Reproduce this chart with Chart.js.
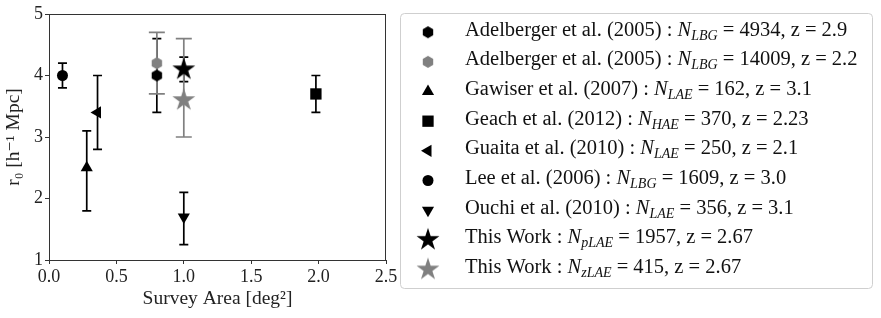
<!DOCTYPE html>
<html>
<head>
<meta charset="utf-8">
<script src="https://cdn.jsdelivr.net/npm/chart.js@4.4.0/dist/chart.umd.min.js"></script>
<style>
html, body { margin: 0; padding: 0; background: #fff; }
#grafico { display: block; }
</style>
</head>
<body>
<canvas id="grafico" width="881" height="318"></canvas>
<script>
// datos
const autores = [
    "Adelberger et al. (2005)", "Adelberger et al. (2005)", "Gawiser et al. (2007)",
    "Geach et al. (2012)", "Guaita et al. (2010)", "Lee et al. (2006)",
    "Ouchi et al. (2010)", "This Work", "This Work"
];
const muestra = ["LBG", "LBG", "LAE", "HAE", "LAE", "LBG", "LAE", "pLAE", "zLAE"];
const nObjetos = [4934, 14009, 162, 370, 250, 1609, 356, 1957, 415];
const redshift = ["2.9", "2.2", "3.1", "2.23", "2.1", "3.0", "3.1", "2.67", "2.67"];
const area = [0.8, 0.8, 0.28, 1.98, 0.36, 0.1, 1.0, 1.0, 1.0];
const r0 = [4.0, 4.2, 2.5, 3.7, 3.4, 4.0, 1.7, 4.1, 3.6];
const r0Min = [3.4, 3.7, 1.8, 3.4, 2.8, 3.8, 1.25, 3.9, 3.0];
const r0Max = [4.6, 4.7, 3.1, 4.0, 4.0, 4.2, 2.1, 4.3, 4.6];
const ticksX = [0, 0.5, 1.0, 1.5, 2.0, 2.5];
const ticksY = [1, 2, 3, 4, 5];

const SERIF = '"Liberation Serif", "DejaVu Serif", serif';
const GRIS = "#808080";

function crearMarcador(forma, r, color) {
    const c = document.createElement("canvas");
    const s = Math.ceil(2 * r + 2);
    c.width = s;
    c.height = s;
    const g = c.getContext("2d");
    g.fillStyle = color;
    g.beginPath();
    const n = forma === "estrella" ? 10 : 6;
    for (let k = 0; k < n; k++) {
        const a = -Math.PI / 2 + k * 2 * Math.PI / n;
        const rr = (forma === "estrella" && k % 2) ? r * 0.382 : r;
        const px = s / 2 + rr * Math.cos(a);
        const py = s / 2 + rr * Math.sin(a);
        if (k === 0) g.moveTo(px, py); else g.lineTo(px, py);
    }
    g.closePath();
    g.fill();
    return c;
}

// estilo de cada serie (marcador, color, tamaño del cap)
const estilos = [
    { color: "#000", estilo: crearMarcador("hex", 6, "#000"), radio: 6, rot: 0, cap: 4.5 },
    { color: GRIS, estilo: crearMarcador("hex", 6, GRIS), radio: 6, rot: 0, cap: 8 },
    { color: "#000", estilo: "triangle", radio: 7, rot: 0, cap: 4.5 },
    { color: "#000", estilo: "rect", radio: 8, rot: 0, cap: 4.5 },
    { color: "#000", estilo: "triangle", radio: 7, rot: -90, cap: 4.5 },
    { color: "#000", estilo: "circle", radio: 5.5, rot: 0, cap: 4.5 },
    { color: "#000", estilo: "triangle", radio: 7, rot: 180, cap: 4.5 },
    { color: "#000", estilo: crearMarcador("estrella", 12, "#000"), radio: 12, rot: 0, cap: 4.5 },
    { color: GRIS, estilo: crearMarcador("estrella", 12, GRIS), radio: 12, rot: 0, cap: 8 }
];

const barrasError = {
    id: "barrasError",
    beforeDatasetsDraw(chart) {
        const ctx = chart.ctx;
        const sx = chart.scales.x;
        const sy = chart.scales.y;
        ctx.save();
        ctx.lineWidth = 1.7;
        area.forEach((a, i) => {
            const x = sx.getPixelForValue(a);
            const y1 = sy.getPixelForValue(r0Min[i]);
            const y2 = sy.getPixelForValue(r0Max[i]);
            const c = estilos[i].cap;
            ctx.strokeStyle = estilos[i].color;
            ctx.beginPath();
            ctx.moveTo(x, y1); ctx.lineTo(x, y2);
            ctx.moveTo(x - c, y1); ctx.lineTo(x + c, y1);
            ctx.moveTo(x - c, y2); ctx.lineTo(x + c, y2);
            ctx.stroke();
        });
        ctx.restore();
    }
};

const marco = {
    id: "marco",
    afterDatasetsDraw(chart) {
        const { left, right, top, bottom } = chart.chartArea;
        const ctx = chart.ctx;
        ctx.save();
        ctx.strokeStyle = "#333";
        ctx.lineWidth = 1;
        ctx.beginPath();
        ctx.moveTo(left, top + 0.5); ctx.lineTo(right, top + 0.5);
        ctx.moveTo(right - 0.5, top); ctx.lineTo(right - 0.5, bottom);
        ctx.stroke();
        ctx.restore();
    }
};

function dibujarTrozos(ctx, x, y, trozos) {
    trozos.forEach(t => {
        ctx.font = t.f;
        ctx.fillText(t.t, x, y + (t.dy || 0));
        x += ctx.measureText(t.t).width;
    });
}

const leyenda = {
    id: "leyenda",
    afterDraw(chart) {
        const ctx = chart.ctx;
        ctx.save();
        ctx.beginPath();
        ctx.roundRect(400.5, 13.5, 472, 275, 4);
        ctx.fillStyle = "#fff";
        ctx.fill();
        ctx.strokeStyle = "#cfcfcf";
        ctx.lineWidth = 1;
        ctx.stroke();

        const normal = "20.5px " + SERIF;
        const ital = "italic 20.5px " + SERIF;
        const sub = "italic 14px " + SERIF;
        ctx.textBaseline = "alphabetic";
        autores.forEach((nombre, i) => {
            const base = 35.7 + i * 29.66;
            const e = estilos[i];
            ctx.beginPath();
            ctx.fillStyle = e.color;
            ctx.strokeStyle = e.color;
            Chart.helpers.drawPoint(ctx, { pointStyle: e.estilo, radius: e.radio, rotation: e.rot, borderWidth: 0 }, 428, base - 3.5);
            ctx.fillStyle = "#111";
            dibujarTrozos(ctx, 465, base, [
                { t: nombre + " : ", f: normal },
                { t: "N", f: ital },
                { t: muestra[i], f: sub, dy: 4 },
                { t: " = " + nObjetos[i] + ", z = " + redshift[i], f: normal }
            ]);
        });
        ctx.restore();
    }
};

const tickFont = { family: SERIF, size: 18 };

new Chart(document.getElementById("grafico"), {
    type: "scatter",
    data: {
        datasets: autores.map((nombre, i) => ({
            label: nombre,
            data: [{ x: area[i], y: r0[i] }],
            pointStyle: estilos[i].estilo,
            pointRadius: estilos[i].radio,
            pointRotation: estilos[i].rot,
            backgroundColor: estilos[i].color,
            borderColor: estilos[i].color,
            borderWidth: 0
        }))
    },
    options: {
        responsive: false,
        animation: false,
        devicePixelRatio: 1,
        layout: { padding: { left: 0, top: 14, right: 495, bottom: 0 } },
        plugins: {
            legend: { display: false },
            tooltip: { enabled: false }
        },
        scales: {
            x: {
                type: "linear",
                min: 0,
                max: 2.5,
                afterBuildTicks: s => { s.ticks = ticksX.map(v => ({ value: v })); },
                afterFit: s => { s.height = 58; },
                grid: { drawOnChartArea: false, tickLength: 4, tickColor: "#333" },
                border: { color: "#333", width: 1 },
                ticks: {
                    font: tickFont,
                    color: "#222",
                    padding: 2,
                    maxRotation: 0,
                    callback: v => Number(v).toFixed(1)
                },
                title: {
                    display: true,
                    text: "Survey Area [deg²]",
                    font: { family: SERIF, size: 19.5 },
                    color: "#222",
                    padding: { top: 0, bottom: 7 }
                }
            },
            y: {
                type: "linear",
                min: 1,
                max: 5,
                afterBuildTicks: s => { s.ticks = ticksY.map(v => ({ value: v })); },
                afterFit: s => { s.width = 49; },
                grid: { drawOnChartArea: false, tickLength: 4, tickColor: "#333" },
                border: { color: "#333", width: 1 },
                ticks: {
                    font: tickFont,
                    color: "#222",
                    padding: 2,
                    callback: v => String(v)
                },
                title: {
                    display: true,
                    text: "r₀ [h⁻¹ Mpc]",
                    font: { family: SERIF, size: 19.5 },
                    color: "#222",
                    padding: { top: 2, bottom: 0 }
                }
            }
        }
    },
    plugins: [barrasError, marco, leyenda]
});
</script>
</body>
</html>
